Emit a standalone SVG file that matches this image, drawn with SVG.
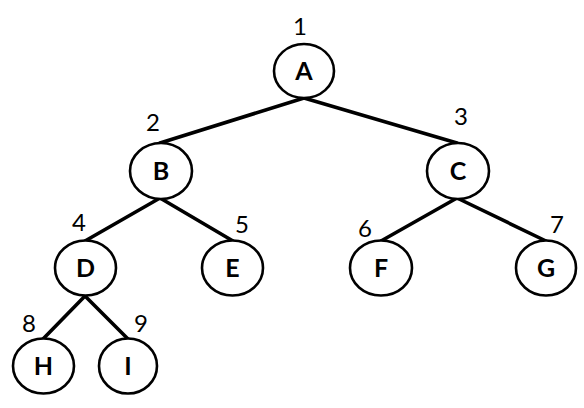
<svg xmlns="http://www.w3.org/2000/svg" width="584" height="408" viewBox="0 0 584 408">
<style>
.n ellipse{fill:#fff;stroke:#000;stroke-width:2.6}
.n text{font-family:Lato,"Liberation Sans",sans-serif;font-size:25px;font-weight:bold;text-anchor:middle;fill:#000}
.lbl{font-family:Lato,"Liberation Sans",sans-serif;font-size:24px;text-anchor:middle;fill:#000}
#edges line{stroke:#000;stroke-width:3.6;stroke-linecap:round}
</style>
<rect width="584" height="408" fill="#fff"/>
<g id="edges">
<line x1="304" y1="98" x2="160" y2="143"/>
<line x1="304" y1="98" x2="457" y2="143"/>
<line x1="160" y1="198" x2="85" y2="241"/>
<line x1="160" y1="198" x2="233" y2="241"/>
<line x1="457" y1="198" x2="381" y2="241"/>
<line x1="457" y1="198" x2="546" y2="241"/>
<line x1="85" y1="296" x2="43" y2="339"/>
<line x1="85" y1="296" x2="128" y2="339"/>
</g>
<g id="A" class="n"><ellipse cx="304" cy="71" rx="30" ry="27"/><text x="304" y="80">A</text></g>
<g id="B" class="n"><ellipse cx="161" cy="171" rx="31" ry="28"/><text x="161" y="180">B</text></g>
<g id="C" class="n"><ellipse cx="458" cy="171" rx="31" ry="28"/><text x="458" y="180">C</text></g>
<g id="D" class="n"><ellipse cx="85.5" cy="268" rx="30.5" ry="27.5"/><text x="85.5" y="277">D</text></g>
<g id="E" class="n"><ellipse cx="232.5" cy="268" rx="30.5" ry="27.5"/><text x="232.5" y="277">E</text></g>
<g id="F" class="n"><ellipse cx="381" cy="268" rx="31" ry="27.5"/><text x="381" y="277">F</text></g>
<g id="G" class="n"><ellipse cx="546" cy="268" rx="30" ry="27.5"/><text x="546" y="277">G</text></g>
<g id="H" class="n"><ellipse cx="43.5" cy="366" rx="30.5" ry="27.5"/><text x="43.5" y="375">H</text></g>
<g id="I" class="n"><ellipse cx="128" cy="366" rx="29" ry="27.5"/><text x="128" y="375">I</text></g>
<g id="labels">
<text class="lbl" x="300" y="35">1</text>
<text class="lbl" x="153" y="131">2</text>
<text class="lbl" x="461" y="125">3</text>
<text class="lbl" x="79" y="231">4</text>
<text class="lbl" x="242" y="233">5</text>
<text class="lbl" x="365" y="237">6</text>
<text class="lbl" x="557" y="233">7</text>
<text class="lbl" x="29" y="332">8</text>
<text class="lbl" x="141" y="332">9</text>
</g>
</svg>
